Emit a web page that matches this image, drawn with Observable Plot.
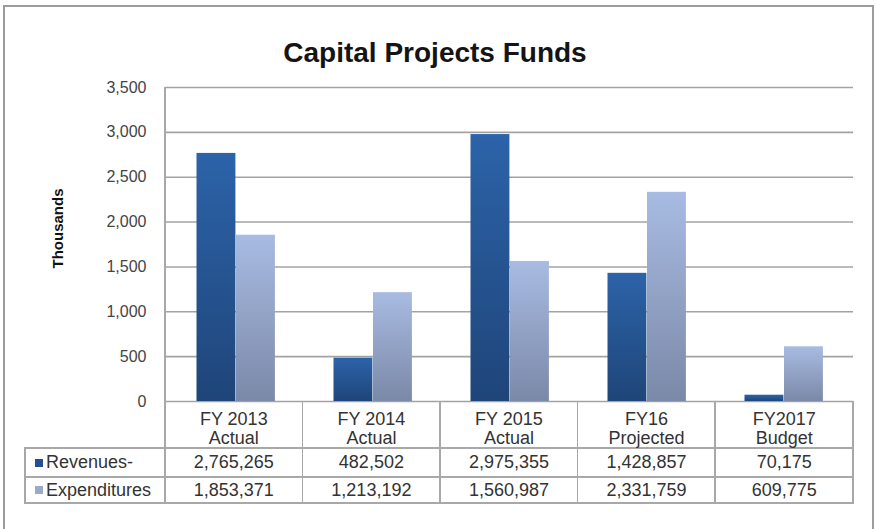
<!DOCTYPE html>
<html><head><meta charset="utf-8">
<script src="https://cdn.jsdelivr.net/npm/d3@7"></script>
<script src="https://cdn.jsdelivr.net/npm/@observablehq/plot@0.6"></script>
<style>
body{margin:0;background:#fff;font-family:"Liberation Sans",Arial,sans-serif;}
#wrap{position:relative;width:875px;height:529px;overflow:hidden;background:#fff;}
#frame{position:absolute;left:3px;top:5px;width:871px;height:560px;border:2px solid #9c9c9c;box-sizing:border-box;}
#title{position:absolute;left:0;width:870px;top:38px;text-align:center;font-weight:bold;font-size:28px;line-height:30px;color:#141414;}
#chart{position:absolute;left:0;top:0;}
.ln{position:absolute;background:#a8a8a8;}
.cell{position:absolute;text-align:center;font-size:18px;color:#333;white-space:pre-line;}
.sw{position:absolute;width:8px;height:8px;}
</style>
</head><body>
<div id="wrap">
  <div id="frame"></div>
  <div id="chart"></div>
  <div id="title">Capital Projects Funds</div>
  <div id="table"></div>
</div>
<script>
const categories = ["FY 2013\nActual","FY 2014\nActual","FY 2015\nActual","FY16\nProjected","FY2017\nBudget"];
const seriesNames = ["Revenues-","Expenditures"];
const revenues = [2765265, 482502, 2975355, 1428857, 70175];
const expenditures = [1853371, 1213192, 1560987, 2331759, 609775];
const yTicks = [0,500,1000,1500,2000,2500,3000,3500];
const yLabel = "Thousands";

const data = [];
categories.forEach((c,i)=>{
  data.push({category:c, series:seriesNames[0], value:revenues[i]/1000});
  data.push({category:c, series:seriesNames[1], value:expenditures[i]/1000});
});

const W=875,H=529, mL=165, mR=22, mT=87, mB=128;
const chart = Plot.plot({
  width:W, height:H, marginLeft:mL, marginRight:mR, marginTop:mT, marginBottom:mB,
  style:{fontFamily:"Liberation Sans, Arial, sans-serif", fontSize:"16px", color:"#444", background:"transparent"},
  x:{domain:categories, padding:0, axis:null},
  y:{domain:[0,3500], ticks:yTicks, tickFormat:d3.format(","), tickSize:0, tickPadding:19, label:null},
  color:{domain:seriesNames, range:["url(#gRev)","url(#gExp)"]},
  marks:[
    Plot.ruleY(yTicks,{stroke:"#a3a3a3", strokeWidth:1.6}),
    Plot.barY(data.filter(d=>d.series===seriesNames[0]),{x:"category", y:"value", fill:"series", insetLeft:29.5, insetRight:68.6}),
    Plot.barY(data.filter(d=>d.series===seriesNames[1]),{x:"category", y:"value", fill:"series", insetLeft:69, insetRight:29.1}),
    Plot.text([yLabel],{text:d=>d, frameAnchor:"left", dx:-107, dy:24, rotate:-90, fontWeight:"bold", fontSize:15, fill:"#111"})
  ]
});
document.getElementById("chart").appendChild(chart);
const svg = d3.select(chart.tagName.toLowerCase()==="svg"?chart:chart.querySelector("svg"));
const defs = svg.insert("defs",":first-child");
function grad(id, top, bottom){
  const g = defs.append("linearGradient").attr("id",id).attr("x1",0).attr("y1",0).attr("x2",0).attr("y2",1);
  g.append("stop").attr("offset","0%").attr("stop-color",top);
  g.append("stop").attr("offset","100%").attr("stop-color",bottom);
}
grad("gRev","#2c63a9","#1f4579");
grad("gExp","#a8bbe2","#7b89a8");

// data table below the plot
const tbl = document.getElementById("table");
const bw = (W-mL-mR)/categories.length;
const x0 = mL, yAxis = H-mB, rowY = [yAxis, yAxis+47, yAxis+76, yAxis+102], legL = 25;
function line(l,t,w,h){const d=document.createElement("div");d.className="ln";Object.assign(d.style,{left:l+"px",top:t+"px",width:w+"px",height:h+"px"});tbl.appendChild(d);}
function cell(l,t,w,h,txt,extra){const d=document.createElement("div");d.className="cell";Object.assign(d.style,{left:l+"px",top:t+"px",width:w+"px",height:h+"px",lineHeight:h+"px"},extra||{});d.textContent=txt;tbl.appendChild(d);return d;}
// plot left axis line
line(x0-1, mT, 1.6, yAxis-mT);
for(let i=0;i<=categories.length;i++) line(x0+i*bw-1, yAxis, 1.6, rowY[3]-yAxis+1);
line(legL-1, rowY[1], 1.6, rowY[3]-rowY[1]+1);
for(let r=1;r<=3;r++) line(legL-1, rowY[r]-1, x0+categories.length*bw-legL+1, 1.6);
const fmt = d3.format(",");
categories.forEach((c,i)=>{
  cell(x0+i*bw, rowY[0]+9, bw, 38, c, {lineHeight:"18.5px"});
  cell(x0+i*bw, rowY[1], bw, rowY[2]-rowY[1], fmt(revenues[i]));
  cell(x0+i*bw, rowY[2], bw, rowY[3]-rowY[2], fmt(expenditures[i]));
});
const swCol = ["#24508f","#9ba9c9"];
seriesNames.forEach((s,k)=>{
  const t=rowY[k+1], h=rowY[k+2]-t;
  const sw=document.createElement("div");sw.className="sw";
  Object.assign(sw.style,{left:"35px",top:(t+h/2-4)+"px",background:swCol[k]});tbl.appendChild(sw);
  cell(46, t, 120, h, s, {textAlign:"left"});
});
</script>
</body></html>
